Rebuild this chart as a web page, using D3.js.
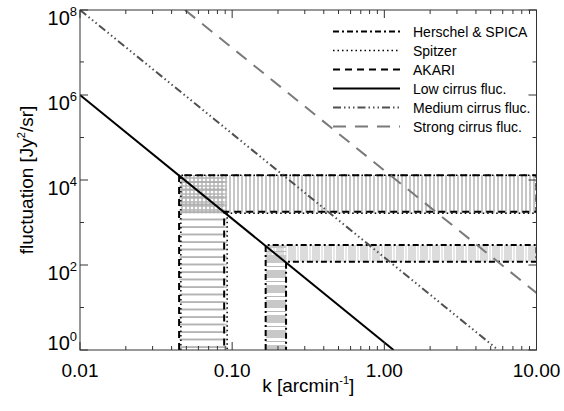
<!DOCTYPE html>
<html>
<head>
<meta charset="utf-8">
<script src="https://cdn.jsdelivr.net/npm/d3@7"></script>
<style>
  body { margin: 0; background: #fff; }
  svg { display: block; font-family: "Liberation Sans", Arial, sans-serif; }
</style>
</head>
<body>
<div id="chart"></div>
<script>
// cirrus fluctuation lines (end points, k in arcmin^-1, fluctuation in Jy^2/sr)
var lowK = [0.01, 1.15],   lowF = [1e6, 1];
var medK = [0.01, 5.6],    medF = [1e8, 1];
var strongK = [0.049, 10], strongF = [1e8, 22];

// instrument regions
var instNames = ['Herschel & SPICA', 'Spitzer', 'AKARI'];
var instKmin = [0.166, 0.046, 0.0448];
var instKmax = [0.226, 0.0927, 0.0886];
var instFtop = [295, 1.3e4, 1.3e4];
var instFbot = [120, 1.64e3, 1.8e3];

var xMajor = [0.01, 0.1, 1, 10];
var xLabels = ['0.01', '0.10', '1.00', '10.00'];
var yMajor = [1, 1e2, 1e4, 1e6, 1e8];
var yExp = ['0', '2', '4', '6', '8'];
var yMinor = [10, 1e3, 1e5, 6e6];

var legendNames = ['Herschel & SPICA', 'Spitzer', 'AKARI', 'Low cirrus fluc.', 'Medium cirrus fluc.', 'Strong cirrus fluc.'];

var W = 564, H = 411;
var x0 = 80, x1 = 536.5, y0 = 10, y1 = 350;

var x = d3.scaleLog().domain([0.01, 10]).range([x0, x1]);
var y = d3.scaleLog().domain([1, 1e8]).range([y1, y0]);

// styles
var lineStyle = {
    herschel: { color: '#000', width: 2, dash: '6,3,2,3' },
    spitzer:  { color: '#000', width: 1.5, dash: '1.5,3' },
    akari:    { color: '#000', width: 2, dash: '7,5' },
    low:      { color: '#000', width: 2, dash: null },
    med:      { color: '#505050', width: 2, dash: '8,3,1.5,3,1.5,3,1.5,3' },
    strong:   { color: '#7a7a7a', width: 2, dash: '13,9' }
};
var instStyle = [lineStyle.herschel, lineStyle.spitzer, lineStyle.akari];
var legendStyle = [lineStyle.herschel, lineStyle.spitzer, lineStyle.akari, lineStyle.low, lineStyle.med, lineStyle.strong];

var svg = d3.select('#chart').append('svg')
    .attr('width', W)
    .attr('height', H);

var defs = svg.append('defs');
defs.append('clipPath').attr('id', 'plotclip')
    .append('rect')
    .attr('x', x0).attr('y', y0)
    .attr('width', x1 - x0).attr('height', y1 - y0);

// vertical thin lines (Spitzer/AKARI level band)
var p1 = defs.append('pattern').attr('id', 'vlines')
    .attr('patternUnits', 'userSpaceOnUse')
    .attr('width', 4).attr('height', 4);
p1.append('line').attr('x1', 2).attr('x2', 2).attr('y1', 0).attr('y2', 4)
    .attr('stroke', '#b4b4b4').attr('stroke-width', 1);

// horizontal thin lines (Spitzer/AKARI k band)
var p2 = defs.append('pattern').attr('id', 'hlines')
    .attr('patternUnits', 'userSpaceOnUse')
    .attr('width', 4).attr('height', 7.5);
p2.append('line').attr('x1', 0).attr('x2', 4).attr('y1', 2).attr('y2', 2)
    .attr('stroke', '#a0a0a0').attr('stroke-width', 1);

// grid lines for the overlap
var p3 = defs.append('pattern').attr('id', 'hgrid')
    .attr('patternUnits', 'userSpaceOnUse')
    .attr('width', 4).attr('height', 4);
p3.append('line').attr('x1', 0).attr('x2', 4).attr('y1', 2).attr('y2', 2)
    .attr('stroke', '#b4b4b4').attr('stroke-width', 1);

// Herschel level band: wide vertical stripes
var p4 = defs.append('pattern').attr('id', 'hsv')
    .attr('patternUnits', 'userSpaceOnUse')
    .attr('width', 12).attr('height', 10);
p4.append('rect').attr('x', 0).attr('y', 0).attr('width', 8).attr('height', 10)
    .attr('fill', '#dcdcdc');
p4.append('line').attr('x1', 10).attr('x2', 10).attr('y1', 0).attr('y2', 10)
    .attr('stroke', '#cfcfcf').attr('stroke-width', 1);

// Herschel k band: wide horizontal stripes
var p5 = defs.append('pattern').attr('id', 'hsh')
    .attr('patternUnits', 'userSpaceOnUse')
    .attr('width', 10).attr('height', 15);
p5.append('rect').attr('x', 0).attr('y', 0).attr('width', 10).attr('height', 8)
    .attr('fill', '#c8c8c8');
p5.append('line').attr('x1', 0).attr('x2', 10).attr('y1', 11.5).attr('y2', 11.5)
    .attr('stroke', '#b8b8b8').attr('stroke-width', 1);

var plot = svg.append('g').attr('clip-path', 'url(#plotclip)');

function bandRect(g, kA, kB, fA, fB, fill) {
    g.append('rect')
        .attr('x', x(kA))
        .attr('y', y(fA))
        .attr('width', x(kB) - x(kA))
        .attr('height', y(fB) - y(fA))
        .attr('fill', fill);
}

// fills
instNames.forEach(function (name, i) {
    var big = i > 0;
    // level band
    bandRect(plot, instKmin[i], 10, instFtop[i], instFbot[i], big ? 'url(#vlines)' : 'url(#hsv)');
    // k band
    bandRect(plot, instKmin[i], instKmax[i], instFtop[i], 1, big ? 'url(#hlines)' : 'url(#hsh)');
    if (big) bandRect(plot, instKmin[i], instKmax[i], instFtop[i], instFbot[i], 'url(#hgrid)');
});

// outlines
var line = d3.line().x(function (d) { return x(d[0]); }).y(function (d) { return y(d[1]); });

function styled(sel, st) {
    sel.attr('fill', 'none')
        .attr('stroke', st.color)
        .attr('stroke-width', st.width);
    if (st.dash) sel.attr('stroke-dasharray', st.dash);
    return sel;
}

instNames.forEach(function (name, i) {
    var pts = [
        [instKmin[i], 1],
        [instKmin[i], instFtop[i]],
        [10, instFtop[i]],
        [10, instFbot[i]],
        [instKmax[i], instFbot[i]],
        [instKmax[i], 1]
    ];
    styled(plot.append('path').attr('d', line(pts)), instStyle[i]);
});

// cirrus lines
function pairs(ks, fs) { return ks.map(function (k, i) { return [k, fs[i]]; }); }
styled(plot.append('path').attr('d', line(pairs(lowK, lowF))), lineStyle.low);
styled(plot.append('path').attr('d', line(pairs(medK, medF))), lineStyle.med);
styled(plot.append('path').attr('d', line(pairs(strongK, strongF))), lineStyle.strong);

// axes box
var axisColor = '#333';
svg.append('rect')
    .attr('x', x0).attr('y', y0)
    .attr('width', x1 - x0).attr('height', y1 - y0)
    .attr('fill', 'none').attr('stroke', axisColor).attr('stroke-width', 1);

var xMinor = [];
[0.01, 0.1, 1].forEach(function (d) {
    for (var m = 2; m <= 9; m++) xMinor.push(d * m);
});

var ticks = svg.append('g').attr('stroke', axisColor).attr('stroke-width', 1);
function xTick(v, len) {
    ticks.append('line').attr('x1', x(v)).attr('x2', x(v)).attr('y1', y1).attr('y2', y1 - len);
    ticks.append('line').attr('x1', x(v)).attr('x2', x(v)).attr('y1', y0).attr('y2', y0 + len);
}
function yTick(v, len) {
    ticks.append('line').attr('x1', x0).attr('x2', x0 + len).attr('y1', y(v)).attr('y2', y(v));
    ticks.append('line').attr('x1', x1).attr('x2', x1 - len).attr('y1', y(v)).attr('y2', y(v));
}
xMajor.forEach(function (v) { xTick(v, 8); });
xMinor.forEach(function (v) { xTick(v, 4); });
yMajor.forEach(function (v) { yTick(v, 8); });
yMinor.forEach(function (v) { yTick(v, 4); });

// x tick labels
svg.append('g').selectAll('text').data(xMajor).join('text')
    .attr('x', function (d) { return x(d); })
    .attr('y', 377)
    .attr('text-anchor', 'middle')
    .attr('font-size', 19)
    .attr('fill', '#000')
    .text(function (d, i) { return xLabels[i]; });

// y tick labels 10^n
var yl = svg.append('g').selectAll('text').data(yMajor).join('text')
    .attr('x', 77)
    .attr('y', function (d) { return Math.min(y(d) + 15, y1); })
    .attr('text-anchor', 'end')
    .attr('font-size', 20)
    .attr('fill', '#000');
yl.append('tspan').text('10');
yl.append('tspan').attr('dy', -9).attr('font-size', 13).text(function (d, i) { return yExp[i]; });

// axis titles
var xt = svg.append('text')
    .attr('x', (x0 + x1) / 2)
    .attr('y', 392)
    .attr('text-anchor', 'middle')
    .attr('font-size', 19)
    .attr('fill', '#000');
xt.append('tspan').text('k [arcmin');
xt.append('tspan').attr('dy', -8).attr('font-size', 11).text('-1');
xt.append('tspan').attr('dy', 8).text(']');

var yt = svg.append('text')
    .attr('transform', 'translate(33,' + ((y0 + y1) / 2) + ')rotate(-90)')
    .attr('text-anchor', 'middle')
    .attr('font-size', 19)
    .attr('fill', '#000');
yt.append('tspan').text('fluctuation [Jy');
yt.append('tspan').attr('dy', -8).attr('font-size', 11).text('2');
yt.append('tspan').attr('dy', 8).text('/sr]');

// legend
var lg = svg.append('g');
legendNames.forEach(function (name, i) {
    var ly = 31.5 + i * 19;
    styled(lg.append('line')
        .attr('x1', 333).attr('x2', 400)
        .attr('y1', ly).attr('y2', ly), legendStyle[i]);
    lg.append('text')
        .attr('x', 413).attr('y', ly + 5)
        .attr('font-size', 14)
        .attr('fill', '#000')
        .text(name);
});
</script>
</body>
</html>
